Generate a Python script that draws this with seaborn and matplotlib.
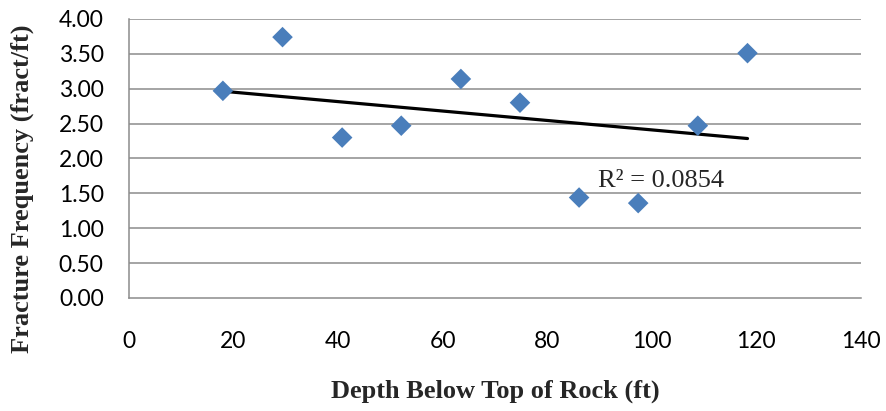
import numpy as np
import pandas as pd
import matplotlib
matplotlib.use("Agg")
import matplotlib.pyplot as plt
import seaborn as sns

# values
depth_ft = [18.0, 29.4, 40.8, 52.1, 63.5, 74.8, 86.1, 97.4, 108.8, 118.3]
fract_per_ft = [2.97, 3.74, 2.30, 2.47, 3.14, 2.80, 1.44, 1.36, 2.47, 3.51]
x_ticks = [0, 20, 40, 60, 80, 100, 120, 140]
y_ticks = [0.0, 0.5, 1.0, 1.5, 2.0, 2.5, 3.0, 3.5, 4.0]
r2_label = "R\u00b2 = 0.0854"

df = pd.DataFrame({"depth": depth_ft, "freq": fract_per_ft})

sns.set_style("white")
plt.rcParams["font.family"] = ["Lato", "DejaVu Sans"]

fig = plt.figure(figsize=(8.86, 4.11), dpi=100)
ax = fig.add_axes([0.1453, 0.275, 0.8265, 0.6788])

grid_col = "#8c8c8c"
for y in y_ticks[1:]:
    ax.axhline(y, color=grid_col, lw=1.1, zorder=0)

sns.regplot(data=df, x="depth", y="freq", ax=ax, scatter=False, ci=None,
            truncate=True, line_kws={"color": "black", "lw": 2.3, "zorder": 2})
sns.scatterplot(data=df, x="depth", y="freq", ax=ax, marker="D", s=110,
                color="#4a7ebb", edgecolor="none", zorder=3)

ax.set_xlim(0, 140)
ax.set_ylim(0, 4.0)
ax.set_xticks(x_ticks)
ax.set_yticks(y_ticks)
ax.set_yticklabels([f"{v:.2f}" for v in y_ticks])
ax.tick_params(axis="both", length=0, labelsize=16.5, colors="black")
ax.tick_params(axis="y", pad=18)
ax.tick_params(axis="x", pad=24)

for side in ["top", "right"]:
    ax.spines[side].set_visible(False)
for side in ["left", "bottom"]:
    ax.spines[side].set_color(grid_col)
    ax.spines[side].set_linewidth(1.1)

lab_font = {"family": "Liberation Serif", "weight": "bold", "size": 19}
ax.set_xlabel("Depth Below Top of Rock (ft)", fontdict=lab_font)
ax.set_ylabel("Fracture Frequency (fract/ft)", fontdict=lab_font)
ax.xaxis.set_label_coords(0.501, -0.335)
ax.xaxis.label.set_va("center")
ax.yaxis.set_label_coords(-0.1457, 0.39)
ax.yaxis.label.set_va("center")

ax.text(89.8, 1.67, r2_label, family="Liberation Serif", fontsize=19,
        va="center", ha="left")

fig.savefig("out.png", dpi=100)
